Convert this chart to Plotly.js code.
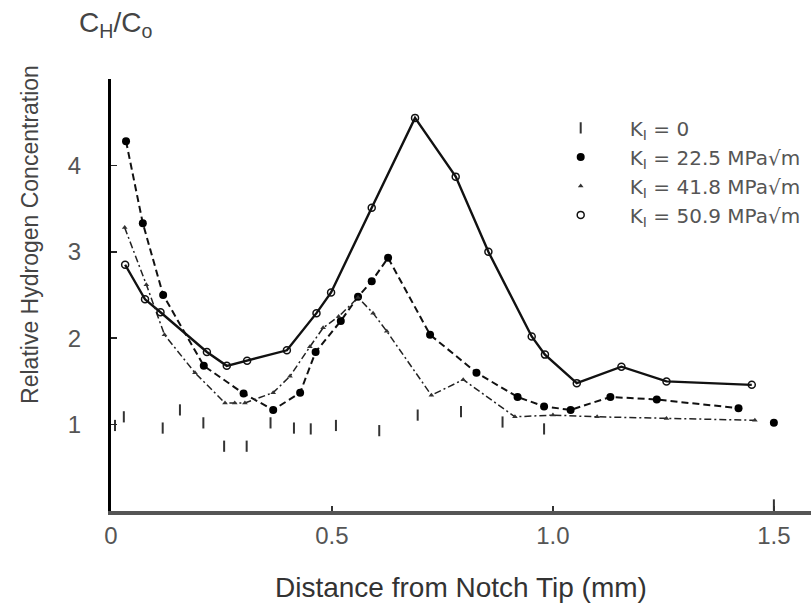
<!DOCTYPE html>
<html>
<head>
<meta charset="utf-8">
<script src="https://cdn.plot.ly/plotly-3.0.1.min.js"></script>
<style>html,body{margin:0;padding:0;background:#fff;}#chart{width:811px;height:603px;}</style>
</head>
<body>
<div id="chart"></div>
<script>
// Series names
const seriesNames = ["K<sub>I</sub> = 0", "K<sub>I</sub> = 22.5 MPa√m", "K<sub>I</sub> = 41.8 MPa√m", "K<sub>I</sub> = 50.9 MPa√m"];

// K_I = 0 (scattered points, no line)
const k0_x = [0.009, 0.029, 0.117, 0.156, 0.209, 0.256, 0.307, 0.361, 0.414, 0.452, 0.509, 0.607, 0.694, 0.792, 0.886, 0.980, 1.50];
const k0_y = [0.99, 1.09, 0.96, 1.17, 1.02, 0.75, 0.75, 1.02, 0.96, 0.95, 0.99, 0.93, 1.11, 1.15, 1.03, 0.95, 0.07];

// K_I = 22.5 MPa√m (dashed line)
const k22_x = [0.034, 0.072, 0.118, 0.21, 0.30, 0.367, 0.428, 0.463, 0.52, 0.559, 0.59, 0.627, 0.722, 0.827, 0.92, 0.98, 1.04, 1.13, 1.235, 1.42];
const k22_y = [4.28, 3.33, 2.50, 1.68, 1.36, 1.17, 1.37, 1.84, 2.20, 2.48, 2.66, 2.93, 2.04, 1.60, 1.32, 1.21, 1.17, 1.32, 1.29, 1.19];
const k22_extra_x = [1.50];
const k22_extra_y = [1.02];

// K_I = 41.8 MPa√m (dash-dot line)
const k41_x = [0.031, 0.08, 0.121, 0.19, 0.258, 0.28, 0.303, 0.367, 0.405, 0.45, 0.48, 0.515, 0.559, 0.593, 0.624, 0.725, 0.797, 0.914, 1.0, 1.10, 1.257, 1.457];
const k41_y = [3.28, 2.62, 2.04, 1.60, 1.25, 1.25, 1.25, 1.37, 1.56, 1.90, 2.12, 2.25, 2.47, 2.29, 2.08, 1.34, 1.52, 1.09, 1.11, 1.09, 1.07, 1.05];

// K_I = 50.9 MPa√m (solid line)
const k50_x = [0.032, 0.077, 0.112, 0.217, 0.262, 0.308, 0.398, 0.465, 0.498, 0.59, 0.688, 0.78, 0.854, 0.952, 0.982, 1.054, 1.155, 1.257, 1.45];
const k50_y = [2.85, 2.45, 2.30, 1.84, 1.68, 1.74, 1.86, 2.29, 2.53, 3.51, 4.55, 3.87, 3.00, 2.02, 1.81, 1.48, 1.67, 1.50, 1.46];

// Axis ticks
const xTickVals = [0, 0.5, 1.0, 1.5];
const xTickText = ["0", "0.5", "1.0", "1.5"];
const yTickVals = [1, 2, 3, 4];
const yTickText = ["1", "2", "3", "4"];

const FONT = '"Liberation Sans", Arial, sans-serif';
const LEGFONT = '"DejaVu Sans", "Liberation Sans", sans-serif';

const traces = [
  // line traces (not in legend)
  {x: k50_x, y: k50_y, mode: 'lines', line: {color: '#111', width: 2.4}, showlegend: false, hoverinfo: 'skip'},
  {x: k22_x, y: k22_y, mode: 'lines', line: {color: '#111', width: 2.0, dash: '7px,4px'}, showlegend: false, hoverinfo: 'skip'},
  {x: k41_x, y: k41_y, mode: 'lines', line: {color: '#222', width: 1.5, dash: '7px,3px,2px,3px'}, showlegend: false, hoverinfo: 'skip'},
  // marker traces (legend); K=0 drawn on the overlaying label axis (same range)
  {x: k0_x, y: k0_y, yaxis: 'y2', mode: 'markers', name: seriesNames[0],
   marker: {symbol: 'line-ns', size: 8, color: '#333', line: {color: '#333', width: 2}}},
  {x: k22_x.concat(k22_extra_x), y: k22_y.concat(k22_extra_y), mode: 'markers', name: seriesNames[1],
   marker: {symbol: 'circle', size: 8, color: '#000'}},
  {x: k41_x, y: k41_y, mode: 'markers', name: seriesNames[2],
   marker: {symbol: 'triangle-up', size: 5, color: '#333'}},
  {x: k50_x, y: k50_y, mode: 'markers', name: seriesNames[3],
   marker: {symbol: 'circle-open', size: 7, color: '#111', line: {width: 1.5, color: '#111'}}}
];

const layout = {
  width: 811, height: 603,
  margin: {l: 111, r: 0, t: 79, b: 92, pad: 0},
  paper_bgcolor: '#fff', plot_bgcolor: '#fff',
  font: {family: FONT, color: '#444', size: 19},
  showlegend: true,
  legend: {x: 0.601, y: 0.932, xanchor: 'left', yanchor: 'top', bgcolor: 'rgba(0,0,0,0)',
           font: {family: LEGFONT, size: 20, color: '#555'}, itemwidth: 88},
  xaxis: {
    range: [0, 1.584], tickvals: xTickVals, ticktext: xTickText,
    showline: true, linecolor: '#555', linewidth: 4, zeroline: false, showgrid: false,
    ticks: 'inside', ticklen: 5, tickwidth: 1.5, tickcolor: '#333',
    tickfont: {family: FONT, size: 24, color: '#555'}
  },
  yaxis: {
    range: [0, 5.0], tickvals: yTickVals, showticklabels: false,
    showline: true, linecolor: '#000', linewidth: 3, zeroline: false, showgrid: false,
    ticks: 'inside', ticklen: 6, tickwidth: 1.5, tickcolor: '#222'
  },
  yaxis2: {
    overlaying: 'y', side: 'left', anchor: 'x',
    range: [0, 5.0], tickvals: yTickVals, ticktext: yTickText,
    showline: false, zeroline: false, showgrid: false,
    ticks: 'outside', ticklen: 24, tickcolor: 'rgba(0,0,0,0)',
    tickfont: {family: FONT, size: 24, color: '#555'}
  },
  annotations: [
    {text: 'Relative Hydrogen Concentration', xref: 'paper', yref: 'paper', x: -0.116, y: 0.641,
     xanchor: 'center', yanchor: 'middle', textangle: -90, showarrow: false,
     font: {family: FONT, size: 23, color: '#444'}},
    {text: 'Distance from Notch Tip (mm)', xref: 'paper', yref: 'paper', x: 0.5, y: -0.176,
     xanchor: 'center', yanchor: 'middle', showarrow: false,
     font: {family: FONT, size: 28, color: '#333'}},
    {text: 'C<sub>H</sub>/C<sub>o</sub>', xref: 'paper', yref: 'paper', x: -0.049, y: 1.127,
     xanchor: 'left', yanchor: 'middle', showarrow: false,
     font: {family: FONT, size: 28, color: '#444'}}
  ]
};

Plotly.newPlot('chart', traces, layout, {staticPlot: true, displayModeBar: false});
</script>
</body>
</html>
